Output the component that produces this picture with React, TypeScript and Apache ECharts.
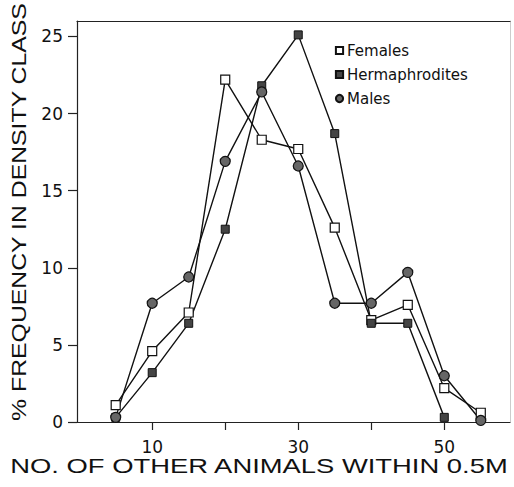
import React, { useEffect, useRef } from "react";
import * as echarts from "echarts";

const xValues = [5, 10, 15, 20, 25, 30, 35, 40, 45, 50, 55];
const females = [1.1, 4.6, 7.1, 22.2, 18.3, 17.7, 12.6, 6.6, 7.6, 2.2, 0.6];
const hermaphrodites = [0.3, 3.2, 6.4, 12.5, 21.8, 25.1, 18.7, 6.4, 6.4, 0.3, null];
const males = [0.3, 7.7, 9.4, 16.9, 21.4, 16.6, 7.7, 7.7, 9.7, 3.0, 0.1];
const xTicks = [10, 20, 30, 40, 50];
const xLabels = [10, 30, 50];
const yTicks = [0, 5, 10, 15, 20, 25];

const FONT = "Liberation Sans, Arial, sans-serif";
const WIDE = "DejaVu Sans, sans-serif";

function pairs(vals: (number | null)[]) {
  return xValues.map((x, i) => [x, vals[i]]).filter((p) => p[1] !== null);
}

export default function App() {
  const ref = useRef<HTMLDivElement>(null);
  useEffect(() => {
    const chart = echarts.init(ref.current!, null, { renderer: "svg" });
    const lineBase = {
      type: "line",
      lineStyle: { color: "#111", width: 1.4 },
      symbolSize: 9,
      z: 3,
    };
    chart.setOption({
      animation: false,
      backgroundColor: "#fff",
      grid: { left: 77, right: 4, top: 21, bottom: 65 },
      legend: {
        orient: "vertical",
        left: 329,
        top: 38,
        itemWidth: 9,
        itemHeight: 9,
        itemGap: 9,
        textStyle: { fontFamily: WIDE, fontSize: 15, color: "#111", padding: [0, 0, 0, -2] },
        data: ["Females", "Hermaphrodites", "Males"],
      },
      graphic: [
        {
          type: "text",
          x: 19,
          y: 212,
          rotation: Math.PI / 2,
          scaleX: 1.24,
          style: {
            text: "% FREQUENCY IN DENSITY CLASS",
            fontFamily: FONT,
            fontSize: 20,
            fill: "#111",
            align: "center",
            verticalAlign: "middle",
          },
        },
        {
          type: "text",
          x: 259,
          y: 466,
          scaleX: 1.37,
          style: {
            text: "NO. OF OTHER ANIMALS WITHIN 0.5M",
            fontFamily: FONT,
            fontSize: 20,
            fill: "#111",
            align: "center",
            verticalAlign: "middle",
          },
        },
      ],
      xAxis: [
        {
          type: "value",
          min: -0.3,
          max: 59,
          splitLine: { show: false },
          axisLine: { show: true, onZero: false, lineStyle: { color: "#222", width: 1.2 } },
          axisTick: {
            show: true,
            length: 8,
            customValues: xTicks,
            lineStyle: { color: "#222", width: 1.2 },
          },
          axisLabel: {
            customValues: xLabels,
            margin: 16,
            fontFamily: WIDE,
            fontSize: 17,
            color: "#111",
          },
        },
        {
          type: "value",
          position: "top",
          min: -0.3,
          max: 59,
          splitLine: { show: false },
          axisLine: { show: true, onZero: false, lineStyle: { color: "#222", width: 1.2 } },
          axisTick: { show: false },
          axisLabel: { show: false },
        },
      ],
      yAxis: [
        {
          type: "value",
          min: 0,
          max: 26,
          splitLine: { show: false },
          axisLine: { show: true, onZero: false, lineStyle: { color: "#222", width: 1.2 } },
          axisTick: {
            show: true,
            length: 9,
            customValues: yTicks,
            lineStyle: { color: "#222", width: 1.2 },
          },
          axisLabel: {
            customValues: yTicks,
            margin: 14,
            fontFamily: WIDE,
            fontSize: 17,
            color: "#111",
          },
        },
        {
          type: "value",
          position: "right",
          min: 0,
          max: 26,
          splitLine: { show: false },
          axisLine: { show: true, onZero: false, lineStyle: { color: "#ccc", width: 1 } },
          axisTick: { show: false },
          axisLabel: { show: false },
        },
      ],
      series: [
        {
          ...lineBase,
          name: "Females",
          symbol: "rect",
          itemStyle: { color: "#fff", borderColor: "#111", borderWidth: 1.2 },
          data: pairs(females),
        },
        {
          ...lineBase,
          name: "Hermaphrodites",
          symbol: "rect",
          symbolSize: 8,
          itemStyle: { color: "#444", borderColor: "#111", borderWidth: 1 },
          data: pairs(hermaphrodites),
        },
        {
          ...lineBase,
          name: "Males",
          symbol: "circle",
          symbolSize: 10,
          itemStyle: { color: "#666", borderColor: "#111", borderWidth: 1.2 },
          data: pairs(males),
        },
      ],
    });
    return () => chart.dispose();
  }, []);
  return <div ref={ref} style={{ width: 514, height: 487, position: "absolute", left: 0, top: 0 }} />;
}
